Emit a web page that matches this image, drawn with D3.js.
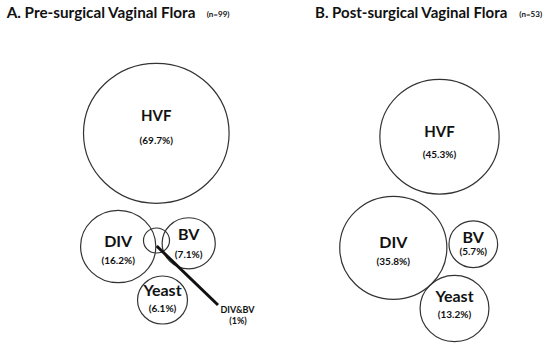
<!DOCTYPE html>
<html>
<head>
<meta charset="utf-8">
<script src="https://cdn.jsdelivr.net/npm/d3@7"></script>
<style>
  body { margin: 0; background: #fff; }
  svg text { font-family: Lato, "Open Sans", sans-serif; font-weight: bold; fill: #111; }
</style>
</head>
<body>
<svg id="drawing_region"></svg>
<script>
// data
const panelTitles = ["A. Pre-surgical Vaginal Flora", "B. Post-surgical Vaginal Flora"];
const sampleSizes = [99, 53];
const groupsA = ["HVF", "DIV", "BV", "Yeast", "DIV&BV"];
const percentA = [69.7, 16.2, 7.1, 6.1, 1];
const groupsB = ["HVF", "DIV", "BV", "Yeast"];
const percentB = [45.3, 35.8, 5.7, 13.2];

// hand placed layout of the bubbles (not data)
const layoutA = {
    "HVF":    { cx: 156.3, cy: 133.3, nameDy: -12, pctDy: 10.5, size: 15 },
    "DIV":    { cx: 118.2, cy: 246.5, nameDy: 0, pctDy: 17, size: 16 },
    "BV":     { cx: 188.7, cy: 243.3, nameDy: -3, pctDy: 14.7, size: 16 },
    "Yeast":  { cx: 162.5, cy: 300, nameDy: -4, pctDy: 12, size: 16 },
    "DIV&BV": { cx: 156.5, cy: 240.5, outside: true }
};
const layoutB = {
    "HVF":   { cx: 439.5, cy: 136.7, nameDy: 0.6, pctDy: 21, size: 15 },
    "DIV":   { cx: 393.3, cy: 247.8, nameDy: 0.5, pctDy: 17, size: 16 },
    "BV":    { cx: 473.3, cy: 244.2, nameDy: -1, pctDy: 11, size: 16 },
    "Yeast": { cx: 454.5, cy: 308.5, nameDy: -7, pctDy: 9.5, size: 16 }
};

const width = 550, height = 343;

const svg = d3.select('#drawing_region')
    .attr('width', width)
    .attr('height', height);

const xscale = d3.scaleLinear().domain([0, 550]).range([0, width]);
const yscale = d3.scaleLinear().domain([0, 343]).range([0, height]);
// bubble size from the percentage
const rscale = d3.scaleSqrt().domain([0, 69.7]).range([4.7, 70]);
const stretch = 1.04;

// titles, shrink font until it fits the width in the reference
const titlePos = [{ x: 6.7, w: 190, nx: 206.7 }, { x: 315, w: 195, nx: 519.3 }];
panelTitles.forEach((t, i) => {
    const title = svg.append('text')
        .attr('x', titlePos[i].x)
        .attr('y', 17.5)
        .text(t);
    let fs = 17;
    title.attr('font-size', fs);
    while (title.node().getComputedTextLength() > titlePos[i].w && fs > 10) {
        fs -= 0.25;
        title.attr('font-size', fs);
    }
    svg.append('text')
        .attr('x', titlePos[i].nx)
        .attr('y', 17)
        .attr('font-size', 8)
        .text(`(n=${sampleSizes[i]})`);
});

function drawPanel(groups, values, layout) {
    const data = groups.map((g, i) => ({ name: g, value: values[i], pos: layout[g] }));
    const g = svg.append('g');

    g.selectAll('ellipse').data(data).enter()
        .append('ellipse')
        .attr('cx', d => xscale(d.pos.cx))
        .attr('cy', d => yscale(d.pos.cy))
        .attr('rx', d => rscale(d.value) * stretch)
        .attr('ry', d => rscale(d.value))
        .attr('fill', 'none')
        .attr('stroke', '#333')
        .attr('stroke-width', 1.2);

    const inside = data.filter(d => !d.pos.outside);
    g.selectAll('text.name').data(inside).enter()
        .append('text')
        .attr('class', 'name')
        .attr('x', d => xscale(d.pos.cx))
        .attr('y', d => yscale(d.pos.cy + d.pos.nameDy))
        .attr('text-anchor', 'middle')
        .attr('font-size', d => d.pos.size)
        .text(d => d.name);
    g.selectAll('text.pct').data(inside).enter()
        .append('text')
        .attr('class', 'pct')
        .attr('x', d => xscale(d.pos.cx))
        .attr('y', d => yscale(d.pos.cy + d.pos.pctDy))
        .attr('text-anchor', 'middle')
        .attr('font-size', 10)
        .text(d => `(${d.value}%)`);

    // leader line + label for the overlap bubble
    data.filter(d => d.pos.outside).forEach(d => {
        g.append('line')
            .attr('x1', xscale(d.pos.cx + 0.2))
            .attr('y1', yscale(d.pos.cy + 5.5))
            .attr('x2', xscale(d.pos.cx + 61.5))
            .attr('y2', yscale(d.pos.cy + 64.5))
            .attr('stroke', '#111')
            .attr('stroke-width', 3);
        g.append('text')
            .attr('x', xscale(d.pos.cx + 81))
            .attr('y', yscale(d.pos.cy + 72))
            .attr('text-anchor', 'middle')
            .attr('font-size', 9)
            .text(d.name);
        g.append('text')
            .attr('x', xscale(d.pos.cx + 81.5))
            .attr('y', yscale(d.pos.cy + 83.5))
            .attr('text-anchor', 'middle')
            .attr('font-size', 9)
            .text(`(${d.value}%)`);
    });
}

drawPanel(groupsA, percentA, layoutA);
drawPanel(groupsB, percentB, layoutB);
</script>
</body>
</html>
